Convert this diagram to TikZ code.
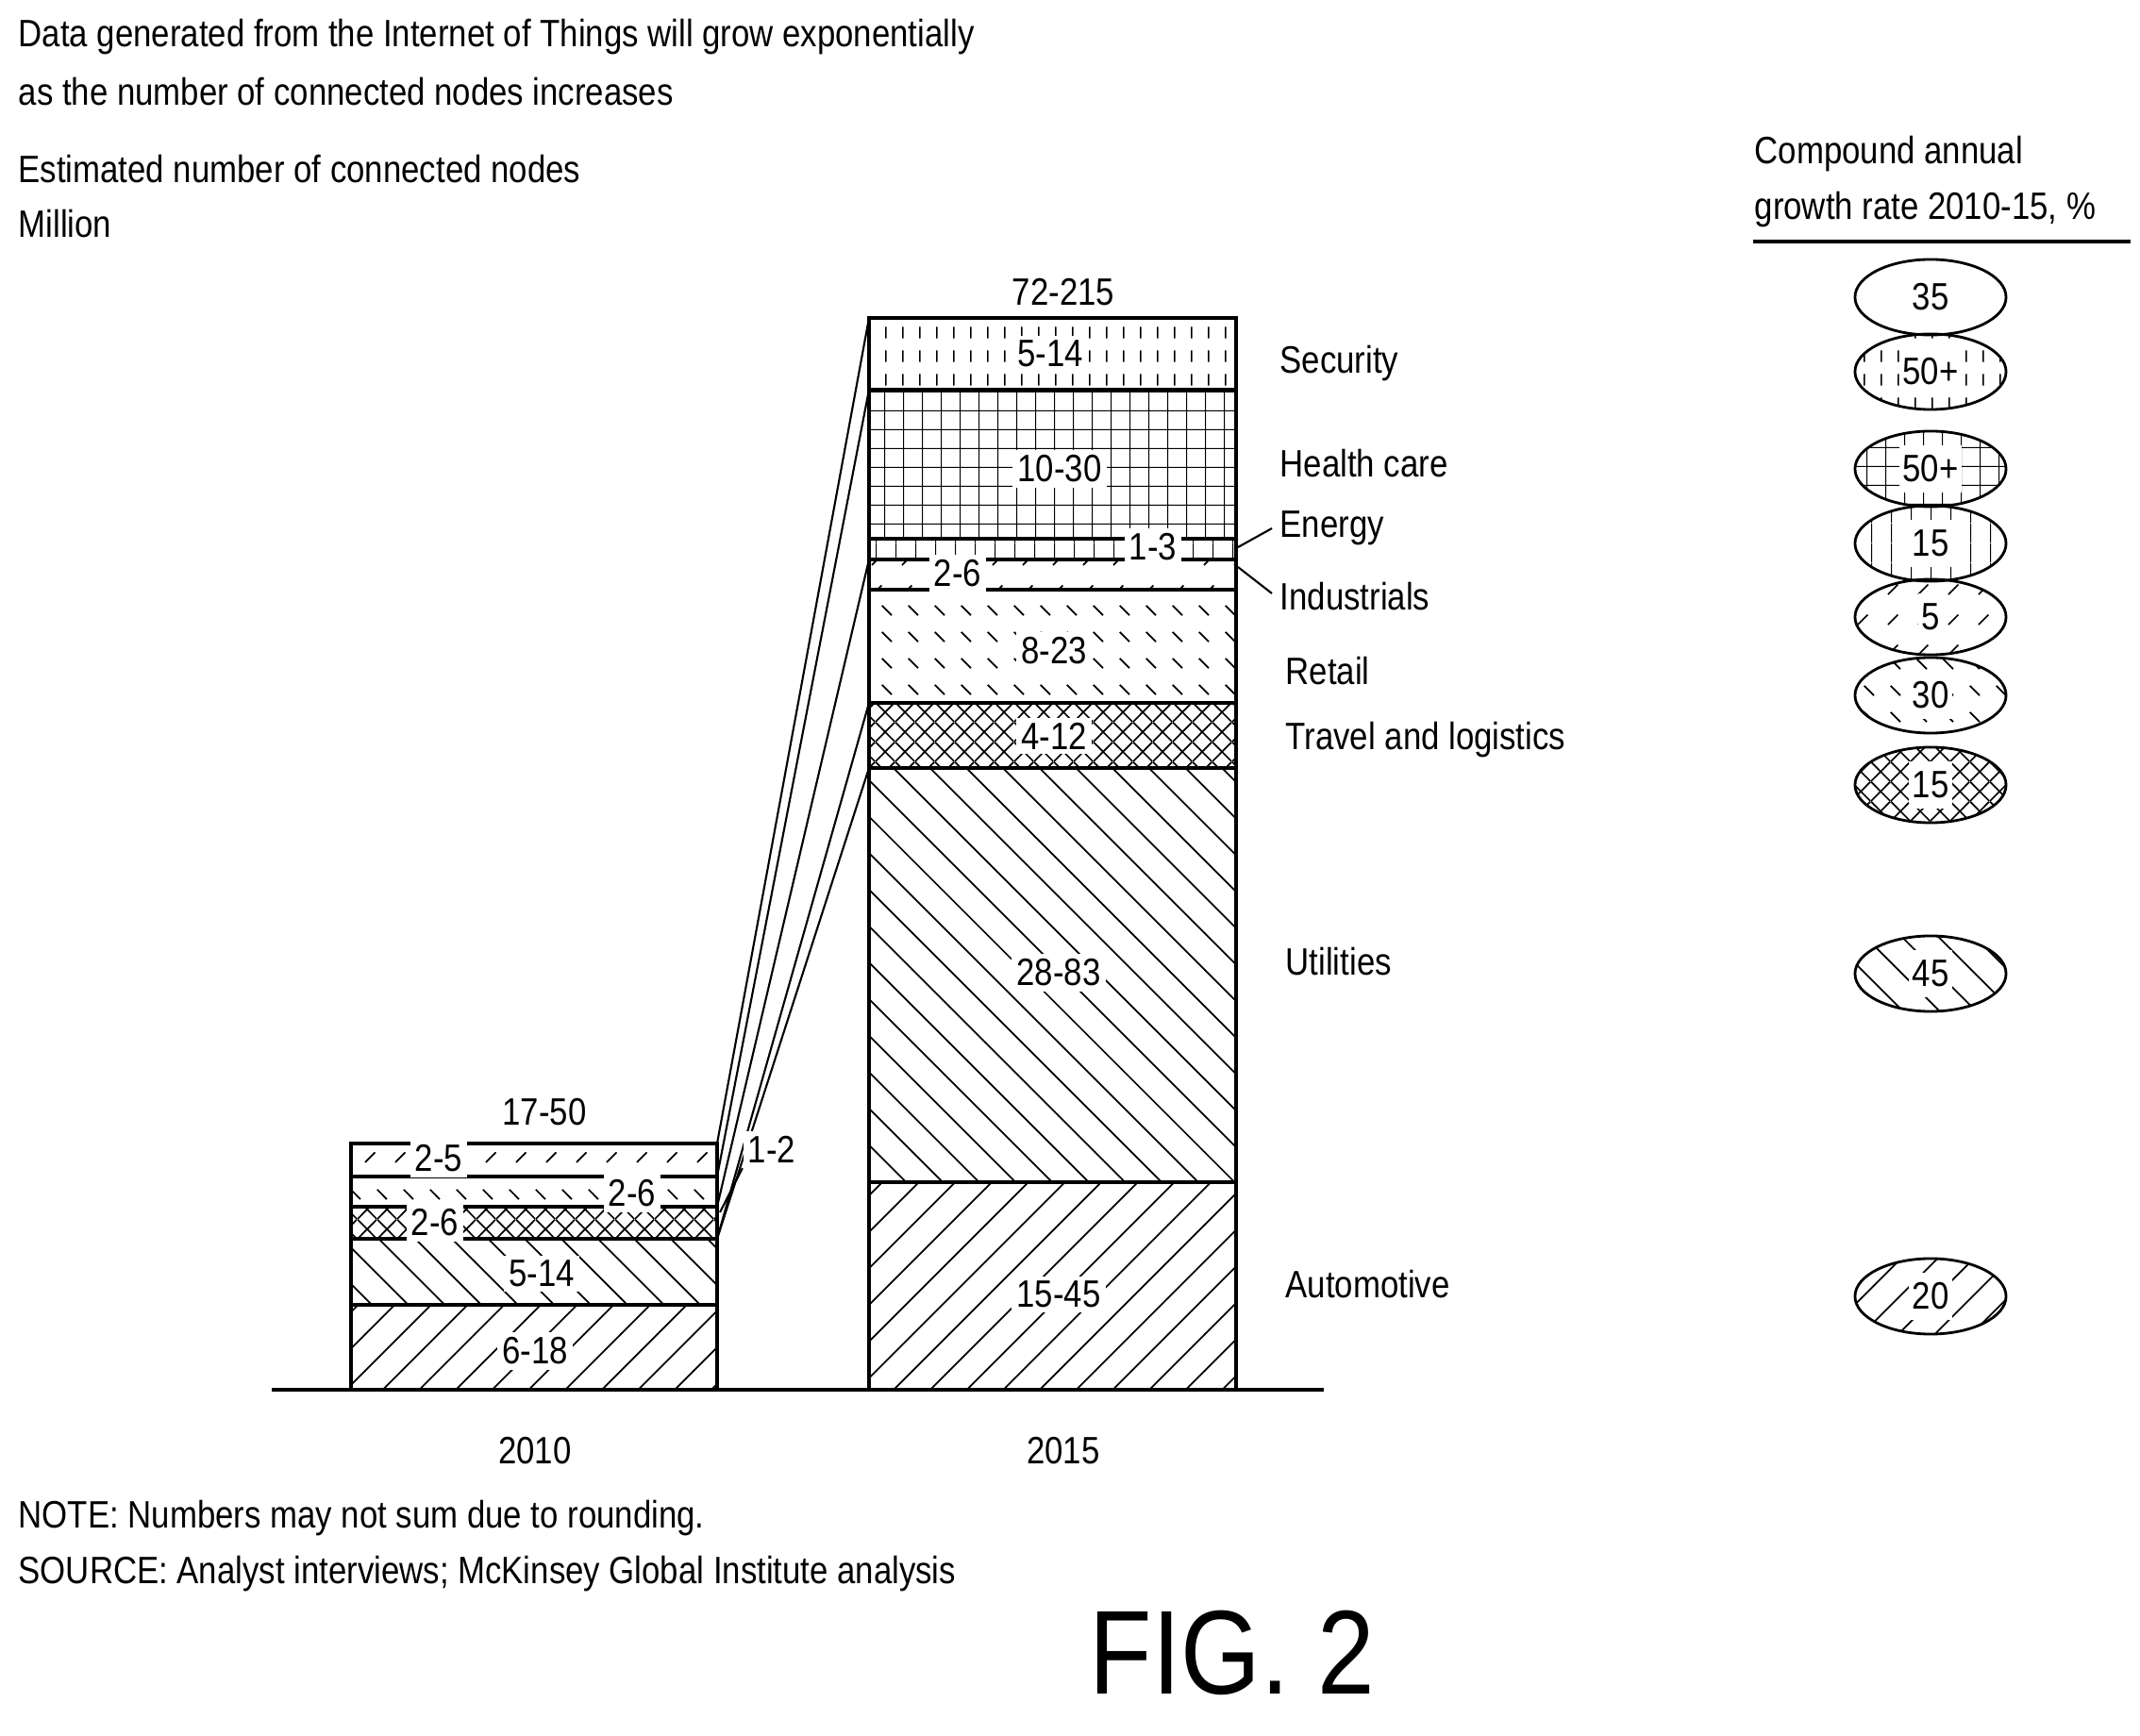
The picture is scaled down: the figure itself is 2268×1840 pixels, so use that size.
\documentclass[tikz,border=0pt]{standalone}
\usepackage{fontspec}
\setmainfont{Liberation Sans}[FakeStretch=0.86]
\usetikzlibrary{patterns,shapes.geometric}

% fill patterns
\pgfdeclarepatternformonly{ne hatch}{\pgfqpoint{-1pt}{-1pt}}{\pgfqpoint{12pt}{12pt}}{\pgfqpoint{11pt}{11pt}}%
  {\pgfsetlinewidth{0.5pt}\pgfpathmoveto{\pgfqpoint{0pt}{0pt}}\pgfpathlineto{\pgfqpoint{11.1pt}{11.1pt}}\pgfusepath{stroke}}
\pgfdeclarepatternformonly{nw hatch}{\pgfqpoint{-1pt}{-1pt}}{\pgfqpoint{12pt}{12pt}}{\pgfqpoint{11pt}{11pt}}%
  {\pgfsetlinewidth{0.5pt}\pgfpathmoveto{\pgfqpoint{0pt}{11pt}}\pgfpathlineto{\pgfqpoint{11.1pt}{-0.1pt}}\pgfusepath{stroke}}
\pgfdeclarepatternformonly{ne dashes}{\pgfqpoint{0pt}{0pt}}{\pgfqpoint{9pt}{9pt}}{\pgfqpoint{9pt}{9pt}}%
  {\pgfsetlinewidth{0.5pt}\pgfpathmoveto{\pgfqpoint{2pt}{2pt}}\pgfpathlineto{\pgfqpoint{5pt}{5pt}}\pgfusepath{stroke}}
\pgfdeclarepatternformonly{nw dashes}{\pgfqpoint{0pt}{0pt}}{\pgfqpoint{8pt}{8pt}}{\pgfqpoint{8pt}{8pt}}%
  {\pgfsetlinewidth{0.5pt}\pgfpathmoveto{\pgfqpoint{2pt}{5pt}}\pgfpathlineto{\pgfqpoint{5pt}{2pt}}\pgfusepath{stroke}}
\pgfdeclarepatternformonly{v dashes}{\pgfqpoint{0pt}{0pt}}{\pgfqpoint{5pt}{7pt}}{\pgfqpoint{5pt}{7pt}}%
  {\pgfsetlinewidth{0.5pt}\pgfpathmoveto{\pgfqpoint{2pt}{1pt}}\pgfpathlineto{\pgfqpoint{2pt}{4.5pt}}\pgfusepath{stroke}}
\pgfdeclarepatternformonly{sq grid}{\pgfqpoint{0pt}{0pt}}{\pgfqpoint{5.8pt}{5.8pt}}{\pgfqpoint{5.8pt}{5.8pt}}%
  {\pgfsetlinewidth{0.6pt}\pgfpathmoveto{\pgfqpoint{0pt}{0pt}}\pgfpathlineto{\pgfqpoint{5.8pt}{0pt}}
   \pgfpathmoveto{\pgfqpoint{0pt}{0pt}}\pgfpathlineto{\pgfqpoint{0pt}{5.8pt}}\pgfusepath{stroke}}
\pgfdeclarepatternformonly{v lines}{\pgfqpoint{0pt}{0pt}}{\pgfqpoint{6pt}{6pt}}{\pgfqpoint{6pt}{6pt}}%
  {\pgfsetlinewidth{0.6pt}\pgfpathmoveto{\pgfqpoint{0pt}{0pt}}\pgfpathlineto{\pgfqpoint{0pt}{6pt}}\pgfusepath{stroke}}
\pgfdeclarepatternformonly{x hatch}{\pgfqpoint{0pt}{0pt}}{\pgfqpoint{6pt}{6pt}}{\pgfqpoint{6pt}{6pt}}%
  {\pgfsetlinewidth{0.5pt}\pgfpathmoveto{\pgfqpoint{0pt}{0pt}}\pgfpathlineto{\pgfqpoint{6pt}{6pt}}
   \pgfpathmoveto{\pgfqpoint{0pt}{6pt}}\pgfpathlineto{\pgfqpoint{6pt}{0pt}}\pgfusepath{stroke}}

\tikzset{
  txt/.style={anchor=west,inner sep=0pt,font=\fontsize{11.5}{14}\selectfont},
  seglbl/.style={fill=white,inner sep=1.5pt,font=\fontsize{11.5}{14}\selectfont},
  barseg/.style={draw,line width=1.1pt},
  cagr/.style={ellipse,draw,line width=0.8pt,minimum width=1.6cm,minimum height=0.8cm,inner sep=0pt,font=\fontsize{11.5}{14}\selectfont},
  lead/.style={line width=0.6pt}
}

\begin{document}
\begin{tikzpicture}[x=0.01cm,y=-0.01cm]
  \useasboundingbox (0,0) rectangle (2268,1840);

  % headings
  \node[txt] (title1) at (19,39) {Data generated from the Internet of Things will grow exponentially};
  \node[txt] (title2) at (19,97) {as the number of connected nodes increases};
  \node[txt] (axis1) at (19,179) {Estimated number of connected nodes};
  \node[txt] (axis2) at (19,237) {Million};

  % 2010 bar
  \fill[pattern=ne hatch]  (372,1383) rectangle (760,1473);
  \fill[pattern=nw hatch]  (372,1313) rectangle (760,1383);
  \fill[pattern=x hatch]   (372,1279) rectangle (760,1313);
  \fill[pattern=nw dashes] (372,1247) rectangle (760,1279);
  \fill[pattern=ne dashes] (372,1212) rectangle (760,1247);
  \foreach \y in {1247,1279,1313,1383}
    \draw[barseg] (372,\y) -- (760,\y);
  \draw[barseg] (372,1473) rectangle (760,1212);

  % 2015 bar
  \fill[pattern=ne hatch]  (921,1253) rectangle (1310,1473);
  \fill[pattern=nw hatch]  (921,814) rectangle (1310,1253);
  \fill[pattern=x hatch]   (921,745) rectangle (1310,814);
  \fill[pattern=nw dashes] (921,625) rectangle (1310,745);
  \fill[pattern=ne dashes] (921,593) rectangle (1310,625);
  \fill[pattern=v lines]   (921,571) rectangle (1310,593);
  \fill[pattern=sq grid]   (921,413) rectangle (1310,571);
  \fill[pattern=v dashes]  (921,337) rectangle (1310,413);
  \foreach \y in {413,571,593,625,745,814,1253}
    \draw[barseg] (921,\y) -- (1310,\y);
  \draw[barseg] (921,1473) rectangle (1310,337);

  % baseline
  \draw[line width=1.1pt] (288,1473) -- (1403,1473);

  % links between the bars
  \coordinate (a0) at (760,1212); \coordinate (b0) at (921,337);
  \coordinate (a1) at (760,1247); \coordinate (b1) at (921,413);
  \coordinate (a2) at (760,1279); \coordinate (b2) at (921,593);
  \coordinate (a3) at (760,1313); \coordinate (b3) at (921,745);
  \coordinate (b4) at (921,814);
  \draw[lead] (a0) -- (b0);
  \draw[lead] (a1) -- (b1);
  \draw[lead] (a2) -- (b2);
  \draw[lead] (a3) -- (b3);
  \draw[lead] (a3) -- (b4);

  % segment values
  \node[seglbl] (v10a) at (567,1432) {6-18};
  \node[seglbl] (v10b) at (574,1350) {5-14};
  \node[seglbl] (v10c) at (461,1296) {2-6};
  \node[seglbl] (v10d) at (670,1265) {2-6};
  \node[seglbl] (v10e) at (465,1228) {2-5};
  \node[seglbl] (v15a) at (1122,1372) {15-45};
  \node[seglbl] (v15b) at (1122,1031) {28-83};
  \node[seglbl] (v15c) at (1117,780) {4-12};
  \node[seglbl] (v15d) at (1117,690) {8-23};
  \node[seglbl] (v15e) at (1015,608) {2-6};
  \node[seglbl] (v15f) at (1222,580) {1-3};
  \node[seglbl] (v15g) at (1123,497) {10-30};
  \node[seglbl] (v15h) at (1113,375) {5-14};

  % totals and years
  \node[seglbl] (tot10) at (577,1179) {17-50};
  \node[seglbl] (tot15) at (1127,310) {72-215};
  \node[seglbl] (small) at (818,1218) {1-2};
  \coordinate (smallend) at (763,1285);
  \draw[lead] (small.south west) -- (smallend);
  \node[seglbl] (y10) at (567,1538) {2010};
  \node[seglbl] (y15) at (1127,1538) {2015};

  % sector names
  \node[txt] (security) at (1356,385) {Security};
  \node[txt] (health) at (1356,491) {Health care};
  \node[txt] (energy) at (1356,560) {Energy};
  \node[txt] (industry) at (1356,632) {Industrials};
  \node[txt] (retail) at (1362,711) {Retail};
  \node[txt] (travel) at (1362,784) {Travel and logistics};
  \node[txt] (utilities) at (1362,1019) {Utilities};
  \node[txt] (auto) at (1362,1361) {Automotive};
  \coordinate (energyend) at (1312,580);
  \coordinate (industryend) at (1312,601);
  \draw[lead] (energy.west) ++(-8,0) -- (energyend);
  \draw[lead] (industry.west) ++(-8,-3) -- (industryend);

  % growth rates
  \node[txt] (cagr1) at (1859,163) {Compound annual};
  \node[txt] (cagr2) at (1859,222) {growth rate 2010-15, \%};
  \draw[line width=1.1pt] (1858,256) -- (2258,256);
  \node[cagr] (g1) at (2046,315) {35};
  \node[cagr,pattern=v dashes] (g2) at (2046,394) {\colorbox{white}{\kern-2pt 50+\kern-2pt}};
  \node[cagr,pattern=sq grid] (g3) at (2046,497) {\colorbox{white}{\kern-2pt 50+\kern-2pt}};
  \node[cagr,pattern=v lines] (g4) at (2046,576) {\colorbox{white}{\kern-2pt 15\kern-2pt}};
  \node[cagr,pattern=ne dashes] (g5) at (2046,654) {\colorbox{white}{\kern-2pt 5\kern-2pt}};
  \node[cagr,pattern=nw dashes] (g6) at (2046,737) {\colorbox{white}{\kern-2pt 30\kern-2pt}};
  \node[cagr,pattern=x hatch] (g7) at (2046,832) {\colorbox{white}{\kern-2pt 15\kern-2pt}};
  \node[cagr,pattern=nw hatch] (g8) at (2046,1032) {\colorbox{white}{\kern-2pt 45\kern-2pt}};
  \node[cagr,pattern=ne hatch] (g9) at (2046,1374) {\colorbox{white}{\kern-2pt 20\kern-2pt}};

  % notes
  \node[txt] (note) at (19,1609) {NOTE: Numbers may not sum due to rounding.};
  \node[txt] (source) at (19,1668) {SOURCE: Analyst interviews; McKinsey Global Institute analysis};
  \node[inner sep=0pt,font=\fontsize{36}{40}\selectfont] (fig) at (1306,1752) {FIG. 2};
\end{tikzpicture}
\end{document}
